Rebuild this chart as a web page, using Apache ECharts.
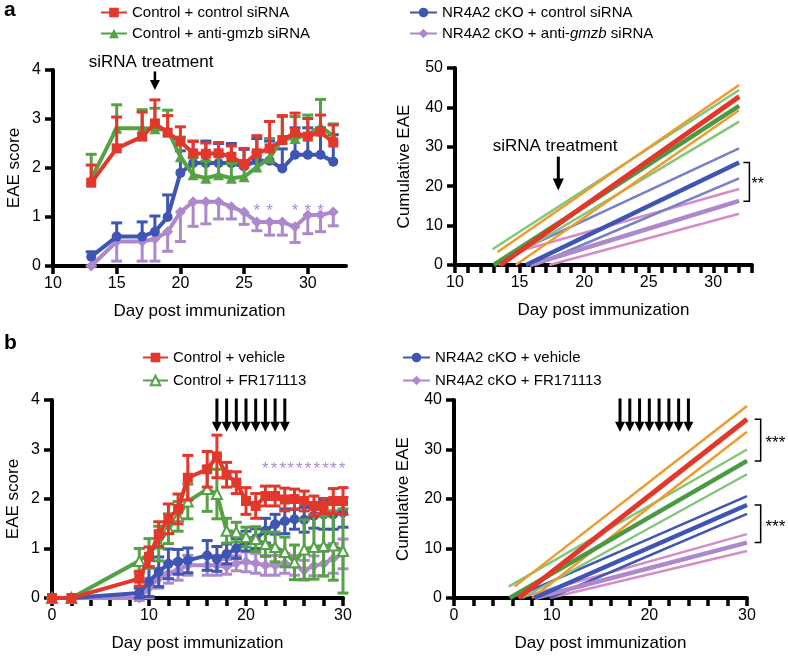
<!DOCTYPE html>
<html>
<head>
<meta charset="utf-8">
<script src="https://cdn.jsdelivr.net/npm/echarts@6/dist/echarts.min.js"></script>
<style>
html, body { margin: 0; padding: 0; background: #fff; }
#main { width: 788px; height: 656px; }
</style>
</head>
<body>
<div id="main"></div>
<script>
const FONT = '"Liberation Sans", Arial, Helvetica, sans-serif';

// ---- panel a, left: EAE score (mean, sem) ----
const daysA = [13, 15, 17, 18, 19, 20, 21, 22, 23, 24, 25, 26, 27, 28, 29, 30, 31, 32];
const redA = [1.70, 2.40, 2.64, 2.91, 2.72, 2.54, 2.30, 2.29, 2.30, 2.23, 2.08, 2.30, 2.40, 2.57, 2.72, 2.64, 2.74, 2.52];
const redAErr = [0.36, 0.64, 0.5, 0.48, 0.35, 0.3, 0.24, 0.22, 0.22, 0.22, 0.32, 0.36, 0.55, 0.5, 0.4, 0.37, 0.34, 0.36];
const greenA = [1.78, 2.81, 2.81, 2.80, 2.78, 2.23, 1.86, 1.79, 1.86, 1.79, 1.82, 2.02, 2.2, 2.6, 2.6, 2.68, 2.85, 2.65];
const greenAErr = [0.5, 0.48, 0.38, 0.42, 0.4, 0.4, 0.35, 0.35, 0.4, 0.3, 0.3, 0.3, 0.4, 0.45, 0.45, 0.4, 0.55, 0.25];
const blueA = [0.19, 0.60, 0.60, 0.70, 1.00, 1.90, 2.10, 2.10, 2.10, 2.10, 2.03, 2.15, 2.15, 1.99, 2.27, 2.27, 2.27, 2.13];
const blueAErr = [0.1, 0.28, 0.3, 0.32, 0.45, 0.45, 0.45, 0.45, 0.4, 0.4, 0.35, 0.45, 0.4, 0.4, 0.55, 0.55, 0.55, 0.55];
const purpleA = [0.0, 0.50, 0.50, 0.55, 0.70, 1.10, 1.31, 1.31, 1.31, 1.21, 1.10, 0.90, 0.90, 0.90, 0.80, 1.04, 1.04, 1.10];
const purpleAErr = [0.0, 0.4, 0.4, 0.45, 0.4, 0.6, 0.5, 0.45, 0.35, 0.25, 0.25, 0.18, 0.27, 0.27, 0.32, 0.38, 0.34, 0.28];
const starDaysA = [26, 27, 29, 30, 31];

// ---- panel a, right: cumulative EAE fits [startDay, startValue, endDay, endValue] ----
const cumAOrange = [[13.3, 3.3, 32, 45.7], [13.6, 0, 32, 43.1], [14.7, 0, 32, 39.3]];
const cumALGreen = [[12.9, 4.0, 32, 44.4], [13.4, 0, 32, 36.4]];
const cumARed = [13.5, 0, 32, 42.7];
const cumADGreen = [13.0, 0, 32, 40.4];
const cumALBlue = [[14.6, 3.0, 32, 29.6], [16.2, 0, 32, 22.0]];
const cumABlue = [15.5, 0, 32, 26.0];
const cumAPink = [[14.4, 3.0, 32, 19.3], [17.3, 0, 32, 13.0]];
const cumAPurple = [15.8, 0, 32, 16.3];

// ---- panel b, left ----
const daysB = [0, 2, 9, 10, 11, 12, 13, 14, 16, 17, 18, 19, 20, 21, 22, 23, 24, 25, 26, 27, 28, 29, 30];
const redB = [0, 0, 0.39, 0.83, 1.29, 1.6, 1.8, 2.43, 2.6, 2.86, 2.49, 2.33, 1.96, 1.86, 2.06, 2.06, 1.99, 2.0, 1.96, 1.86, 1.86, 1.96, 1.96];
const redBErr = [0, 0, 0.15, 0.2, 0.25, 0.3, 0.3, 0.45, 0.36, 0.43, 0.25, 0.22, 0.27, 0.25, 0.2, 0.2, 0.23, 0.2, 0.2, 0.2, 0.15, 0.25, 0.27];
const greenB = [0, 0, 0.75, 0.9, 1.1, 1.4, 1.65, 1.95, 2.2, 2.1, 1.36, 1.33, 1.23, 1.19, 1.09, 1.03, 0.93, 0.72, 0.98, 1.03, 1.05, 1.06, 0.95];
const greenBErr = [0, 0, 0.25, 0.3, 0.35, 0.3, 0.3, 0.35, 0.45, 0.5, 0.25, 0.2, 0.2, 0.25, 0.25, 0.3, 0.3, 0.35, 0.6, 0.65, 0.6, 0.7, 0.85];
const blueB = [0, 0, 0.1, 0.33, 0.53, 0.69, 0.73, 0.76, 0.86, 0.79, 0.89, 1.0, 1.15, 1.2, 1.36, 1.49, 1.55, 1.59, 1.58, 1.66, 1.69, 1.69, 1.73];
const blueBErr = [0, 0, 0.1, 0.3, 0.3, 0.3, 0.25, 0.25, 0.3, 0.25, 0.2, 0.2, 0.2, 0.2, 0.25, 0.2, 0.25, 0.2, 0.25, 0.25, 0.3, 0.3, 0.3];
const purpleB = [0, 0, 0, 0.2, 0.4, 0.5, 0.56, 0.66, 0.66, 0.66, 0.63, 0.7, 0.73, 0.7, 0.66, 0.66, 0.7, 0.66, 0.56, 0.65, 0.69, 0.8, 0.89];
const purpleBErr = [0, 0, 0.05, 0.2, 0.2, 0.2, 0.2, 0.2, 0.2, 0.2, 0.15, 0.15, 0.2, 0.2, 0.2, 0.2, 0.2, 0.2, 0.2, 0.2, 0.25, 0.3, 0.3];
const treatDaysB = [17, 18, 19, 20, 21, 22, 23, 24];
const starDaysB = [22.0, 22.9, 23.8, 24.6, 25.5, 26.4, 27.3, 28.2, 29.0, 29.9];

// ---- panel b, right: cumulative EAE fits ----
const cumBOrange = [[6.2, 2.3, 30, 38.8], [8.0, 0, 30, 33.6]];
const cumBLGreen = [[5.6, 2.3, 30, 30.0], [7.0, 0, 30, 25.0]];
const cumBRed = [6.6, 0, 30, 36.1];
const cumBDGreen = [5.7, 0, 30, 27.7];
const cumBLBlue = [[7.2, 1.0, 30, 20.6], [9.8, 0, 30, 17.0]];
const cumBBlue = [8.2, 0, 30, 18.8];
const cumBPink = [[7.4, 0.4, 30, 12.9], [9.8, 0, 30, 9.5]];
const cumBPurple = [8.3, 0, 30, 11.2];

// ---- x ticks / tick labels ----
const ticksXAL = [10, 15, 20, 25, 30];
const labelsXA = [10, 15, 20, 25, 30];
const labelsXB = [0, 10, 20, 30];

const C_RED = '#e2372b', C_GREEN = '#55a244', C_BLUE = '#3f55b3', C_PURPLE = '#ad89cc';
const C_ORANGE = '#ee9b2c', C_LGREEN = '#82c67a', C_DGREEN = '#4b9a43', C_LBLUE = '#7480c8';
const C_PINK = '#d68dc7', C_STAR = '#a98dcf';

function xAxisOf(grid, min, max, interval, labelVals, tickVals) {
    return {
        type: 'value', gridIndex: grid, min: min, max: max, interval: interval,
        name: 'Day post immunization', nameLocation: 'middle', nameGap: 37,
        nameTextStyle: {color: '#000', fontSize: 17, fontFamily: FONT},
        axisLine: {onZero: false, lineStyle: {color: '#000', width: 4}},
        axisTick: {show: true, length: 8, lineStyle: {color: '#000', width: 3.5}, customValues: tickVals},
        axisLabel: {color: '#000', fontSize: 16, fontFamily: FONT, margin: 10,
            formatter: v => (labelVals.indexOf(v) >= 0 ? String(v) : '')},
        splitLine: {show: false}
    };
}
function yAxisOf(grid, max, interval, name, gap) {
    return {
        type: 'value', gridIndex: grid, min: 0, max: max, interval: interval,
        name: name, nameLocation: 'middle', nameGap: gap,
        nameTextStyle: {color: '#000', fontSize: 17, fontFamily: FONT},
        axisLine: {onZero: false, lineStyle: {color: '#000', width: 4}},
        axisTick: {length: 8, lineStyle: {color: '#000', width: 3.5}},
        axisLabel: {color: '#000', fontSize: 16, fontFamily: FONT, margin: 12},
        splitLine: {show: false}
    };
}

function meanSeries(name, grid, days, vals, color, symbol, size, z) {
    const empty = symbol.indexOf('empty') === 0;
    return {
        name: name, type: 'line', xAxisIndex: grid, yAxisIndex: grid, z: z,
        data: days.map((d, i) => [d, vals[i]]),
        symbol: symbol, symbolSize: size, showSymbol: true,
        lineStyle: {color: color, width: 4},
        itemStyle: {color: color, borderColor: color, borderWidth: empty ? 2.5 : 0},
        emphasis: {disabled: true}, animation: false
    };
}

// dir: 1 up only, -1 down only, 0 both
function errSeries(grid, days, vals, errs, color, dir, z) {
    return {
        type: 'custom', xAxisIndex: grid, yAxisIndex: grid, z: z, silent: true,
        data: days.map((d, i) => [d, vals[i], errs[i]]),
        renderItem: function (params, api) {
            const x = api.value(0), m = api.value(1), e = api.value(2);
            const c = api.coord([x, m]);
            const kids = [];
            [1, -1].forEach(function (s) {
                if (dir !== 0 && s !== dir) return;
                const t = api.coord([x, m + s * e]);
                kids.push({type: 'line', shape: {x1: c[0], y1: c[1], x2: t[0], y2: t[1]}, style: {stroke: color, lineWidth: 3}});
                kids.push({type: 'line', shape: {x1: t[0] - 5.5, y1: t[1], x2: t[0] + 5.5, y2: t[1]}, style: {stroke: color, lineWidth: 3}});
            });
            return {type: 'group', children: kids};
        }
    };
}

function fitSeries(grid, seg, color, width, z) {
    return {
        type: 'line', xAxisIndex: grid, yAxisIndex: grid, z: z, silent: true,
        data: [[seg[0], seg[1]], [seg[2], seg[3]]],
        symbol: 'none', lineStyle: {color: color, width: width}, animation: false
    };
}

function arrowSeries(grid, xs, top, tip, headW, headH, shaft) {
    return {
        type: 'custom', xAxisIndex: grid, yAxisIndex: grid, z: 10, silent: true,
        data: xs.map(x => [x, top, tip]),
        renderItem: function (params, api) {
            const a = api.coord([api.value(0), api.value(1)]);
            const b = api.coord([api.value(0), api.value(2)]);
            return {type: 'group', children: [
                {type: 'line', shape: {x1: a[0], y1: a[1], x2: b[0], y2: b[1] - headH + 1}, style: {stroke: '#000', lineWidth: shaft}},
                {type: 'polygon', shape: {points: [[b[0] - headW / 2, b[1] - headH], [b[0] + headW / 2, b[1] - headH], [b[0], b[1]]]}, style: {fill: '#000'}}
            ]};
        }
    };
}

function textSeries(grid, items, size, color) {
    return {
        type: 'custom', xAxisIndex: grid, yAxisIndex: grid, z: 10, silent: true,
        data: items.map(it => [it[0], it[1]]),
        renderItem: function (params, api) {
            const p = api.coord([api.value(0), api.value(1)]);
            return {type: 'text', x: p[0], y: p[1], style: {
                text: items[params.dataIndex][2], fill: color, fontSize: size, fontFamily: FONT,
                align: 'center', verticalAlign: 'middle'}};
        }
    };
}

function bracketSeries(grid, items) {
    return {
        type: 'custom', xAxisIndex: grid, yAxisIndex: grid, z: 10, silent: true,
        data: items,
        renderItem: function (params, api) {
            const a = api.coord([api.value(0), api.value(1)]);
            const b = api.coord([api.value(0), api.value(2)]);
            return {type: 'polyline', shape: {points: [[a[0] - 6, a[1]], [a[0], a[1]], [b[0], b[1]], [b[0] - 6, b[1]]]},
                style: {stroke: '#000', lineWidth: 1.5, fill: null}};
        }
    };
}

const series = [];
// panel a left
series.push(errSeries(0, daysA, purpleA, purpleAErr, C_PURPLE, -1, 2));
series.push(meanSeries('NR4A2 cKO + anti-gmzb siRNA', 0, daysA, purpleA, C_PURPLE, 'diamond', 11, 2));
series.push(errSeries(0, daysA, blueA, blueAErr, C_BLUE, 1, 3));
series.push(meanSeries('NR4A2 cKO + control siRNA', 0, daysA, blueA, C_BLUE, 'circle', 10, 3));
series.push(errSeries(0, daysA, greenA, greenAErr, C_GREEN, 1, 4));
series.push(meanSeries('Control + anti-gmzb siRNA', 0, daysA, greenA, C_GREEN, 'triangle', 11, 4));
series.push(errSeries(0, daysA, redA, redAErr, C_RED, 1, 5));
series.push(meanSeries('Control + control siRNA', 0, daysA, redA, C_RED, 'rect', 10, 5));
series.push(textSeries(0, starDaysA.map(d => [d, 1.12, '*']), 17, C_STAR));
series.push(textSeries(0, [[17.7, 4.16, 'siRNA treatment']], 17, '#000'));
series.push(arrowSeries(0, [18], 3.97, 3.59, 10, 10, 2.5));

// panel a right
cumAPink.forEach(s => series.push(fitSeries(1, s, C_PINK, 2.5, 2)));
cumALBlue.forEach(s => series.push(fitSeries(1, s, C_LBLUE, 2.5, 2)));
series.push(fitSeries(1, cumAPurple, C_PURPLE, 4.5, 3));
series.push(fitSeries(1, cumABlue, C_BLUE, 4.5, 3));
cumALGreen.forEach(s => series.push(fitSeries(1, s, C_LGREEN, 2.5, 2)));
cumAOrange.forEach(s => series.push(fitSeries(1, s, C_ORANGE, 2.5, 2)));
series.push(fitSeries(1, cumADGreen, C_DGREEN, 4.5, 3));
series.push(fitSeries(1, cumARed, C_RED, 5, 4));
series.push(textSeries(1, [[17.75, 30.0, 'siRNA treatment']], 17, '#000'));
series.push(arrowSeries(1, [18], 27.5, 18.9, 11, 12, 3));
series.push(bracketSeries(1, [[32.8, 26.0, 16.2]]));
series.push(textSeries(1, [[33.45, 20.3, '**']], 16, '#000'));

// panel b left
series.push(errSeries(2, daysB, purpleB, purpleBErr, C_PURPLE, 0, 2));
series.push(meanSeries('NR4A2 cKO + FR171113', 2, daysB, purpleB, C_PURPLE, 'diamond', 11, 2));
series.push(errSeries(2, daysB, blueB, blueBErr, C_BLUE, 0, 3));
series.push(meanSeries('NR4A2 cKO + vehicle', 2, daysB, blueB, C_BLUE, 'circle', 10, 3));
series.push(errSeries(2, daysB, greenB, greenBErr, C_GREEN, 0, 4));
series.push(meanSeries('Control + FR171113', 2, daysB, greenB, C_GREEN, 'emptyTriangle', 10, 4));
series.push(errSeries(2, daysB, redB, redBErr, C_RED, 0, 5));
series.push(meanSeries('Control + vehicle', 2, daysB, redB, C_RED, 'rect', 10, 5));
series.push(textSeries(2, starDaysB.map(d => [d, 2.6, '*']), 17, C_STAR));
series.push(arrowSeries(2, treatDaysB, 4.03, 3.36, 10, 10, 3));

// panel b right
cumBPink.forEach(s => series.push(fitSeries(3, s, C_PINK, 2.5, 2)));
cumBLBlue.forEach(s => series.push(fitSeries(3, s, C_BLUE, 2.5, 2)));
series.push(fitSeries(3, cumBPurple, C_PURPLE, 4.5, 3));
series.push(fitSeries(3, cumBBlue, C_BLUE, 4.5, 3));
cumBLGreen.forEach(s => series.push(fitSeries(3, s, C_LGREEN, 2.5, 2)));
cumBOrange.forEach(s => series.push(fitSeries(3, s, C_ORANGE, 2.5, 2)));
series.push(fitSeries(3, cumBDGreen, C_DGREEN, 4.5, 3));
series.push(fitSeries(3, cumBRed, C_RED, 5, 4));
series.push(arrowSeries(3, treatDaysB, 40.3, 33.6, 10, 10, 3));
series.push(bracketSeries(3, [[31.4, 36.1, 27.7], [31.4, 18.8, 11.2]]));
series.push(textSeries(3, [[32.9, 31.3, '***'], [32.9, 14.3, '***']], 17, '#000'));

function legendOf(names, left, top, w, gap) {
    return {
        data: names, orient: 'vertical', left: left, top: top, itemWidth: w, itemHeight: 12, itemGap: gap,
        selectedMode: false, padding: 0,
        formatter: function (n) {
            return n === 'NR4A2 cKO + anti-gmzb siRNA' ? 'NR4A2 cKO + anti-{i|gmzb} siRNA' : n;
        },
        textStyle: {color: '#000', fontSize: 15, fontFamily: FONT,
            rich: {i: {fontStyle: 'italic', fontSize: 15, fontFamily: FONT, color: '#000'}}}
    };
}

const option = {
    backgroundColor: '#fff',
    animation: false,
    grid: [
        {left: 53, top: 70, width: 293, height: 196},
        {left: 455, top: 68, width: 297, height: 197},
        {left: 52, top: 400, width: 291, height: 198},
        {left: 454, top: 400, width: 293, height: 198}
    ],
    xAxis: [
        xAxisOf(0, 10, 33, 5, labelsXA, ticksXAL),
        xAxisOf(1, 10, 33, 1, labelsXA),
        xAxisOf(2, 0, 30, 2, labelsXB),
        xAxisOf(3, 0, 30, 2, labelsXB)
    ],
    yAxis: [
        yAxisOf(0, 4, 1, 'EAE score', 30),
        yAxisOf(1, 50, 10, 'Cumulative EAE', 42),
        yAxisOf(2, 4, 1, 'EAE score', 30),
        yAxisOf(3, 40, 10, 'Cumulative EAE', 42)
    ],
    legend: [
        legendOf(['Control + control siRNA', 'Control + anti-gmzb siRNA'], 100, 5, 26, 6),
        legendOf(['NR4A2 cKO + control siRNA', 'NR4A2 cKO + anti-gmzb siRNA'], 409, 5, 27, 6),
        legendOf(['Control + vehicle', 'Control + FR171113'], 142, 350, 25, 8),
        legendOf(['NR4A2 cKO + vehicle', 'NR4A2 cKO + FR171113'], 402, 350, 27, 8)
    ],
    graphic: [
        {type: 'text', left: 4, top: 0, style: {text: 'a', fontSize: 21, fontWeight: 'bold', fontFamily: FONT, fill: '#000'}},
        {type: 'text', left: 4, top: 333, style: {text: 'b', fontSize: 21, fontWeight: 'bold', fontFamily: FONT, fill: '#000'}}
    ],
    series: series
};

const chart = echarts.init(document.getElementById('main'));
chart.setOption(option);
</script>
</body>
</html>
